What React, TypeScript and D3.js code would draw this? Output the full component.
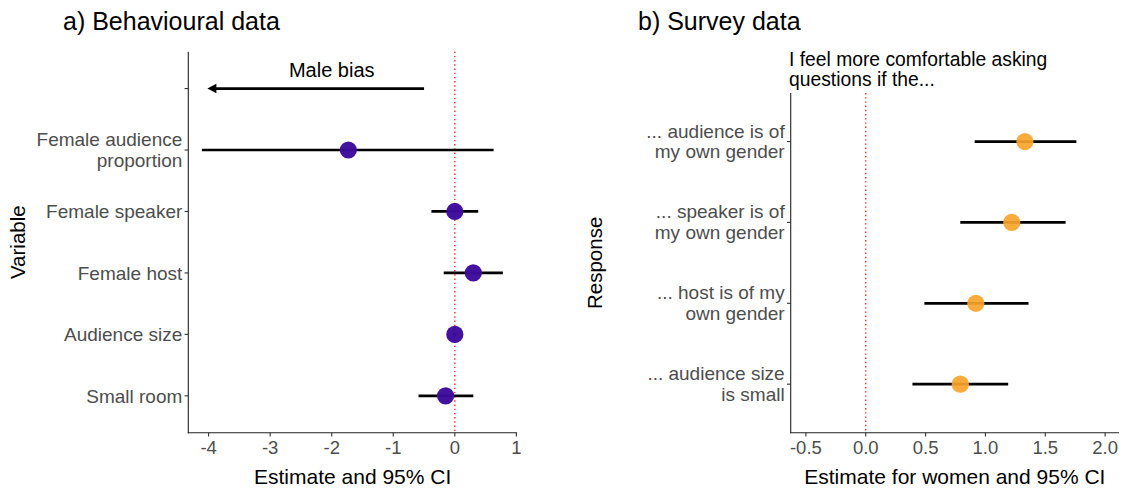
import React from "react";
import * as d3 from "d3";

// ---- Data ----
const behaviouralVars = ["Female audience\nproportion", "Female speaker", "Female host", "Audience size", "Small room"];
const behaviouralEst = [-1.73, 0.0, 0.3, 0.0, -0.15];
const behaviouralLow = [-4.11, -0.38, -0.18, -0.03, -0.59];
const behaviouralHigh = [0.63, 0.38, 0.78, 0.03, 0.3];
const behaviouralTicks = [-4, -3, -2, -1, 0, 1];
const arrowFrom = -0.5;
const arrowTo = -4.02;
const arrowLabelX = -2.0;

const surveyResponses = [
  "... audience is of\nmy own gender",
  "... speaker is of\nmy own gender",
  "... host is of my\nown gender",
  "... audience size\nis small",
];
const surveyEst = [1.33, 1.22, 0.92, 0.79];
const surveyLow = [0.91, 0.79, 0.49, 0.39];
const surveyHigh = [1.76, 1.67, 1.36, 1.19];
const surveyTicks = [-0.5, 0, 0.5, 1.0, 1.5, 2.0];

const FONT = "'Liberation Sans', Arial, sans-serif";
const TICK_COLOR = "#4d4d4d";
const PURPLE = "#3d0a9b";
const ORANGE = "#f8a42a";

function Panel({
  cats, est, low, high, ticks, fmt, xDomain, xRange, yRange, color, opacity,
  xTitle, yTitle, yTitleX, title, titleX,
  blankTop,
}: any) {
  const x = d3.scaleLinear().domain(xDomain).range(xRange);
  const domain = blankTop ? ["__blank__", ...cats] : cats;
  const y = d3.scalePoint<string>().domain(domain).range(yRange).padding(0.6);
  const [x0, x1] = xRange;
  const [y0, y1] = yRange;
  return (
    <g>
      <text x={titleX} y={29.5} fontSize={25} fill="#000" fontFamily={FONT}>{title}</text>
      {/* reference line at 0 */}
      <line x1={x(0)} x2={x(0)} y1={y0} y2={y1} stroke="#ff2a2a" strokeWidth={1.4} strokeDasharray="1.4,2.8" />
      {/* error bars */}
      {cats.map((c: string, i: number) => (
        <line key={"e" + i} x1={x(low[i])} x2={x(high[i])} y1={y(c)} y2={y(c)} stroke="#000" strokeWidth={2.7} />
      ))}
      {cats.map((c: string, i: number) => (
        <circle key={"p" + i} cx={x(est[i])} cy={y(c)} r={8.6} fill={color} fillOpacity={opacity} />
      ))}
      {/* axes */}
      <line x1={x0} x2={x0} y1={y0} y2={y1 + 0.5} stroke="#222" strokeWidth={1.1} />
      <line x1={x0 - 0.5} x2={x1} y1={y1} y2={y1} stroke="#222" strokeWidth={1.1} />
      {domain.map((c: string, i: number) => (
        <g key={"yt" + i}>
          <line x1={x0 - 3.7} x2={x0} y1={y(c)} y2={y(c)} stroke="#333" strokeWidth={1.1} />
          {c !== "__blank__" && (
            <text x={x0 - 6} y={y(c)} textAnchor="end" fontSize={19} fill={TICK_COLOR} fontFamily={FONT}>
              {c.split("\n").length === 1 ? (
                <tspan x={x0 - 6} dy={6.8}>{c}</tspan>
              ) : (
                c.split("\n").map((ln: string, k: number) => (
                  <tspan key={k} x={x0 - 6} dy={k === 0 ? -4 : 20.5}>{ln}</tspan>
                ))
              )}
            </text>
          )}
        </g>
      ))}
      {ticks.map((t: number, i: number) => (
        <g key={"xt" + i}>
          <line x1={x(t)} x2={x(t)} y1={y1} y2={y1 + 3.7} stroke="#333" strokeWidth={1.1} />
          <text x={x(t)} y={453.5} textAnchor="middle" fontSize={18.5} fill={TICK_COLOR} fontFamily={FONT}>{fmt(t)}</text>
        </g>
      ))}
      <text x={(x0 + x1) / 2} y={484} textAnchor="middle" fontSize={21} fill="#000" fontFamily={FONT}>{xTitle}</text>
      <text
        transform={`translate(${yTitleX},${(y0 + y1) / 2}) rotate(-90)`}
        textAnchor="middle" fontSize={20.5} fill="#000" fontFamily={FONT}
      >{yTitle}</text>
    </g>
  );
}

export default function App() {
  const xa = d3.scaleLinear().domain([-4.33, 1.01]).range([188.3, 517]);
  const ya = d3.scalePoint<string>().domain(["__blank__", ...behaviouralVars]).range([51.7, 432.7]).padding(0.6);
  const arrowY = ya("__blank__") as number;
  const ax0 = xa(arrowFrom);
  const ax1 = xa(arrowTo);
  return (
    <svg width={1126} height={494} style={{ position: "absolute", left: 0, top: 0, background: "#fff" }}>
      <rect width={1126} height={494} fill="#fff" />
      <Panel
        cats={behaviouralVars} est={behaviouralEst} low={behaviouralLow} high={behaviouralHigh}
        ticks={behaviouralTicks} fmt={(t: number) => d3.format("d")(t).replace("−", "-")}
        xDomain={[-4.33, 1.01]} xRange={[188.3, 517]} yRange={[51.7, 432.7]} color={PURPLE} opacity={0.97}
        xTitle="Estimate and 95% CI" yTitle="Variable" yTitleX={25}
        title="a) Behavioural data" titleX={63} blankTop={true}
      />
      {/* Male bias arrow */}
      <line x1={ax0} x2={ax1 + 7} y1={arrowY} y2={arrowY} stroke="#000" strokeWidth={2.7} />
      <path d={`M${ax1},${arrowY} L${ax1 + 9},${arrowY - 4.8} L${ax1 + 9},${arrowY + 4.8} Z`} fill="#000" />
      <text x={xa(arrowLabelX)} y={77} textAnchor="middle" fontSize={20} fill="#000" fontFamily={FONT}>Male bias</text>

      <Panel
        cats={surveyResponses} est={surveyEst} low={surveyLow} high={surveyHigh}
        ticks={surveyTicks} fmt={(t: number) => d3.format(".1f")(t).replace("−", "-")}
        xDomain={[-0.627, 2.116]} xRange={[790.7, 1119]} yRange={[93, 432.7]} color={ORANGE} opacity={0.92}
        xTitle="Estimate for women and 95% CI" yTitle="Response" yTitleX={602}
        title="b) Survey data" titleX={638} blankTop={false}
      />
      <text x={789} y={65.7} fontSize={19.3} fill="#000" fontFamily={FONT}>
        <tspan x={789}>I feel more comfortable asking</tspan>
        <tspan x={789} dy={20}>questions if the...</tspan>
      </text>
    </svg>
  );
}
